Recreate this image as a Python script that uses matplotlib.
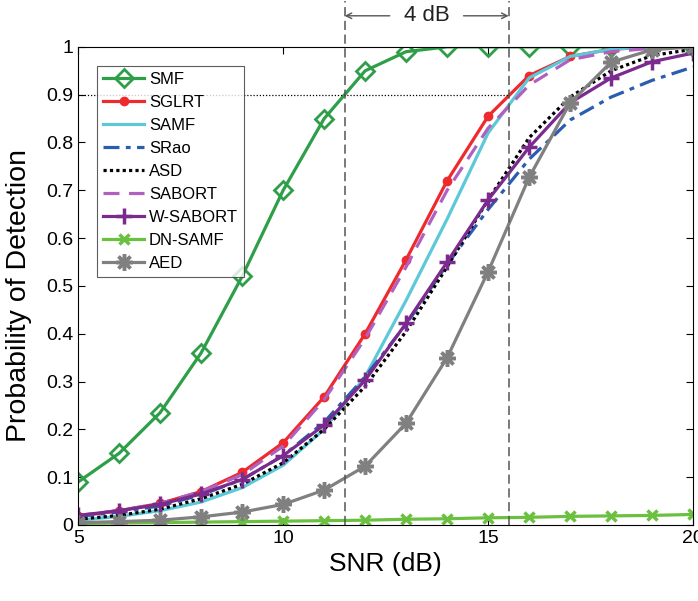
import numpy as np
import matplotlib
matplotlib.use('Agg')
import matplotlib.pyplot as plt

plt.rcParams['font.family'] = ['Liberation Sans', 'DejaVu Sans']

# donnees
snr = [5, 6, 7, 8, 9, 10, 11, 12, 13, 14, 15, 16, 17, 18, 19, 20]

smf     = [0.09, 0.15, 0.235, 0.36, 0.52, 0.70, 0.85, 0.95, 0.99, 1.0, 1.0, 1.0, 1.0, 1.0, 1.0, 1.0]
sglrt   = [0.018, 0.03, 0.045, 0.07, 0.11, 0.172, 0.268, 0.40, 0.555, 0.72, 0.855, 0.94, 0.98, 0.995, 1.0, 1.0]
samf    = [0.01, 0.018, 0.03, 0.048, 0.078, 0.125, 0.20, 0.31, 0.47, 0.64, 0.82, 0.935, 0.98, 0.995, 1.0, 1.0]
srao    = [0.018, 0.027, 0.04, 0.063, 0.095, 0.145, 0.215, 0.31, 0.42, 0.545, 0.66, 0.765, 0.847, 0.895, 0.93, 0.958]
asd     = [0.012, 0.02, 0.033, 0.055, 0.085, 0.13, 0.20, 0.29, 0.405, 0.54, 0.68, 0.81, 0.895, 0.95, 0.982, 0.995]
sabort  = [0.02, 0.03, 0.045, 0.07, 0.105, 0.165, 0.262, 0.39, 0.54, 0.70, 0.83, 0.92, 0.973, 0.99, 0.997, 1.0]
wsabort = [0.02, 0.03, 0.043, 0.065, 0.095, 0.145, 0.209, 0.303, 0.422, 0.55, 0.68, 0.79, 0.883, 0.935, 0.969, 0.987]
dnsamf  = [0.003, 0.004, 0.005, 0.006, 0.007, 0.008, 0.009, 0.01, 0.012, 0.013, 0.015, 0.016, 0.018, 0.019, 0.02, 0.022]
aed     = [0.005, 0.007, 0.01, 0.017, 0.027, 0.043, 0.073, 0.123, 0.213, 0.35, 0.53, 0.727, 0.883, 0.968, 0.994, 1.0]

yticks = [0, 0.1, 0.2, 0.3, 0.4, 0.5, 0.6, 0.7, 0.8, 0.9, 1]
ytick_labels = ['0', '0.1', '0.2', '0.3', '0.4', '0.5', '0.6', '0.7', '0.8', '0.9', '1']
xticks = [5, 10, 15, 20]

fig = plt.figure(figsize=(6.98, 6.01), dpi=100)
ax = fig.add_axes([0.112, 0.1265, 0.881, 0.7955])

lw = 2.3
ax.plot(snr, smf, color='#2E9E48', lw=lw, marker='D', ms=9, mfc='none', mew=2, label='SMF')
ax.plot(snr, sglrt, color='#EE2A2E', lw=lw, marker='o', ms=6, label='SGLRT')
ax.plot(snr, samf, color='#5CC8D8', lw=lw, label='SAMF')
ax.plot(snr, srao, color='#2A5CB0', lw=lw, ls=(0, (5, 2, 1.5, 2)), label='SRao')
ax.plot(snr, asd, color='black', lw=lw, ls=(0, (1, 1)), label='ASD')
ax.plot(snr, sabort, color='#B060C0', lw=lw, ls=(0, (5, 3)), label='SABORT')
ax.plot(snr, wsabort, color='#7B2A8E', lw=lw, marker='+', ms=11, mew=2.5, label='W-SABORT')
ax.plot(snr, dnsamf, color='#6CC040', lw=lw, marker='x', ms=7, mew=2.5, label='DN-SAMF')
ax.plot(snr, aed, color='#808080', lw=lw, marker=(8, 2, 0), ms=12, mew=2.5, label='AED')

# lignes de reference
ax.plot([5, 15.5], [0.9, 0.9], color='black', lw=0.9, ls=(0, (1, 1.5)))
for xv in [11.5, 15.5]:
    ax.plot([xv, xv], [0, 1.097], color='#555555', lw=1.1, ls=(0, (6, 3)), clip_on=False)

ax.annotate('', xy=(11.5, 1.065), xytext=(12.6, 1.065), xycoords='data',
            arrowprops=dict(arrowstyle='->', color='#555555', lw=1.0, shrinkA=0, shrinkB=0),
            annotation_clip=False)
ax.annotate('', xy=(15.5, 1.065), xytext=(14.4, 1.065), xycoords='data',
            arrowprops=dict(arrowstyle='->', color='#555555', lw=1.0, shrinkA=0, shrinkB=0),
            annotation_clip=False)
ax.text(13.5, 1.065, '4 dB', ha='center', va='center', fontsize=16, color='#222222')

ax.set_xlim(5, 20)
ax.set_ylim(0, 1)
ax.set_xticks(xticks)
ax.set_yticks(yticks)
ax.set_yticklabels(ytick_labels)
ax.tick_params(direction='in', top=True, right=True, labelsize=14, length=5)
ax.set_xlabel('SNR (dB)', fontsize=19)
ax.set_ylabel('Probability of Detection', fontsize=20.5)
ax.yaxis.set_label_coords(-0.075, 0.48)

leg = ax.legend(loc='upper left', bbox_to_anchor=(0.031, 0.960), fontsize=12, frameon=True,
                fancybox=False, edgecolor='#333333', handlelength=2.46, labelspacing=0.48,
                borderpad=0.35, handletextpad=0.3, borderaxespad=0)
leg.get_frame().set_linewidth(0.8)

fig.savefig('out.png', dpi=100)
